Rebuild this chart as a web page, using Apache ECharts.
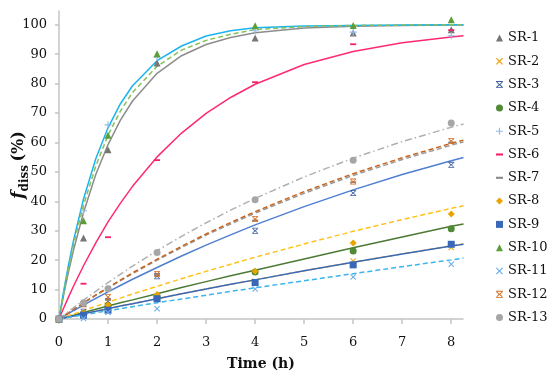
<!DOCTYPE html>
<html>
<head>
<meta charset="utf-8">
<script src="https://cdn.jsdelivr.net/npm/echarts@6/dist/echarts.min.js"></script>
<style>html,body{margin:0;padding:0;background:#fff;}#c{width:550px;height:379px;}</style>
</head>
<body>
<div id="c"></div>
<script>
// Measured time points (h)
var times = [0, 0.5, 1, 2, 4, 6, 8];
// Measured dissolution (%) per formulation
var sr1  = [0, 27.5, 57.5, 87.0, 95.5, 97.2, 98.3];
var sr2  = [0, 1.8, 3.3, 7.2, 12.8, 19.7, 24.3];
var sr3  = [0, 2.5, 6.0, 14.5, 30.0, 42.8, 52.4];
var sr4  = [0, 1.8, 4.5, 7.5, 16.0, 23.1, 30.7];
var sr5  = [0, 36.8, 66.0, 89.0, 98.0, 97.5, 96.3];
var sr6  = [0, 12.0, 27.8, 54.0, 80.5, 93.4, 98.2];
var sr7  = [0, 4.5, 6.5, 15.0, 33.5, 46.5, 60.0];
var sr8  = [0, 2.0, 4.8, 8.3, 16.2, 25.8, 35.7];
var sr9  = [0, 1.3, 3.0, 6.9, 12.4, 18.4, 25.4];
var sr10 = [0, 33.4, 62.5, 90.2, 99.7, 99.8, 101.7];
var sr11 = [0, 0.2, 2.2, 3.5, 10.2, 14.3, 18.6];
var sr12 = [0, 5.0, 7.5, 15.3, 34.0, 46.7, 60.5];
var sr13 = [0, 5.5, 10.3, 22.6, 40.5, 54.0, 66.6];

// Fitted curves
var fitTime = [0, 0.1, 0.2, 0.3, 0.5, 0.75, 1, 1.25, 1.5, 2, 2.5, 3, 3.5, 4, 5, 6, 7, 8, 8.25];
var fit1  = [0, 8.6, 16.5, 23.7, 36.2, 49.1, 59.3, 67.5, 74.1, 83.5, 89.5, 93.3, 95.7, 97.3, 98.9, 99.5, 99.8, 99.9, 99.9];
var fit2  = [0, 0.35, 0.7, 1.05, 1.75, 2.6, 3.5, 4.4, 5.2, 6.9, 8.6, 10.2, 11.8, 13.3, 16.4, 19.3, 22.1, 24.9, 25.5];
var fit3  = [0, 1.0, 1.9, 2.9, 4.7, 7.0, 9.2, 11.4, 13.5, 17.5, 21.4, 25.1, 28.6, 32.0, 38.2, 43.9, 49.1, 53.8, 54.9];
var fit4  = [0, 0.44, 0.9, 1.3, 2.2, 3.3, 4.4, 5.5, 6.5, 8.6, 10.7, 12.7, 14.7, 16.6, 20.4, 24.2, 27.9, 31.5, 32.3];
var fit5  = [0, 10.0, 18.9, 27.0, 40.8, 54.5, 65.0, 73.1, 79.3, 87.8, 92.8, 96.2, 98.0, 99.0, 99.6, 99.8, 99.9, 100, 100];
var fit6  = [0, 3.9, 7.7, 11.3, 18.1, 25.9, 33.0, 39.3, 45.1, 55.1, 63.2, 69.9, 75.3, 79.8, 86.5, 90.9, 93.9, 95.9, 96.3];
var fit7  = [0, 1.1, 2.2, 3.2, 5.4, 8.0, 10.5, 13.0, 15.4, 20.0, 24.3, 28.5, 32.3, 36.0, 42.7, 48.8, 54.2, 59.1, 60.2];
var fit8  = [0, 0.6, 1.2, 1.7, 2.9, 4.3, 5.7, 7.1, 8.5, 11.1, 13.7, 16.2, 18.6, 21.0, 25.5, 29.8, 33.8, 37.6, 38.5];
var fit9  = [0, 0.35, 0.7, 1.05, 1.75, 2.6, 3.5, 4.4, 5.2, 6.9, 8.6, 10.2, 11.8, 13.3, 16.4, 19.3, 22.1, 24.8, 25.4];
var fit10 = [0, 9.3, 17.8, 25.5, 38.7, 52.0, 62.5, 70.6, 77.0, 85.9, 91.4, 94.7, 96.8, 98.4, 99.4, 99.8, 99.9, 100, 100];
var fit11 = [0, 0.28, 0.56, 0.84, 1.4, 2.1, 2.8, 3.5, 4.2, 5.5, 6.8, 8.1, 9.4, 10.6, 13.0, 15.4, 17.8, 20.1, 20.7];
var fit12 = [0, 1.1, 2.2, 3.3, 5.5, 8.2, 10.7, 13.2, 15.7, 20.3, 24.7, 28.9, 32.8, 36.5, 43.3, 49.4, 54.8, 59.7, 60.8];
var fit13 = [0, 1.3, 2.6, 3.9, 6.4, 9.4, 12.4, 15.2, 18.0, 23.2, 28.1, 32.7, 37.0, 41.0, 48.3, 54.7, 60.3, 65.2, 66.3];

var xTicks = [0, 1, 2, 3, 4, 5, 6, 7, 8];
var yTicks = [0, 10, 20, 30, 40, 50, 60, 70, 80, 90, 100];
var names = ['SR-1','SR-2','SR-3','SR-4','SR-5','SR-6','SR-7','SR-8','SR-9','SR-10','SR-11','SR-12','SR-13'];

var SYM_X = 'path://M0,1.2 L1.2,0 L5,3.8 L8.8,0 L10,1.2 L6.2,5 L10,8.8 L8.8,10 L5,6.2 L1.2,10 L0,8.8 L3.8,5 Z';
var SYM_XB = 'path://M0,0 H10 V1.3 H0 Z M0,8.7 H10 V10 H0 Z M0.5,2 L1.7,1.3 L5,4.2 L8.3,1.3 L9.5,2 L6.1,5 L9.5,8 L8.3,8.7 L5,5.8 L1.7,8.7 L0.5,8 L3.9,5 Z';
var SYM_PLUS = 'path://M4.2,0 H5.8 V4.2 H10 V5.8 H5.8 V10 H4.2 V5.8 H0 V4.2 H4.2 Z';
var SYM_DASH = 'path://M0,0 H10 V3 H0 Z';

var markerDefs = [
  {d: sr1,  sym: 'triangle', size: 7, color: '#767676'},
  {d: sr2,  sym: SYM_X,      size: 6, color: '#e8a317'},
  {d: sr3,  sym: SYM_XB,     size: 6, color: '#3e5c9e'},
  {d: sr4,  sym: 'circle',   size: 7, color: '#4f8a34'},
  {d: sr5,  sym: SYM_PLUS,   size: 7, color: '#8fbbe8'},
  {d: sr6,  sym: SYM_DASH,   size: 6, color: '#f5206a'},
  {d: sr7,  sym: SYM_DASH,   size: 6, color: '#8a8a8a'},
  {d: sr8,  sym: 'diamond',  size: 7, color: '#eaa400'},
  {d: sr9,  sym: 'rect',     size: 7, color: '#3a68b8'},
  {d: sr10, sym: 'triangle', size: 7, color: '#5b9e38'},
  {d: sr11, sym: SYM_X,      size: 6, color: '#6aaee8'},
  {d: sr12, sym: SYM_XB,     size: 6, color: '#d2691e'},
  {d: sr13, sym: 'circle',   size: 7, color: '#a6a6a6'}
];
var fitDefs = [
  {d: fit7,  color: '#9a9a9a', type: 'dashed'},
  {d: fit1,  color: '#8c8c8c', type: 'solid'},
  {d: fit2,  color: '#f2b92f', type: 'dashed'},
  {d: fit3,  color: '#4f7fd0', type: 'solid'},
  {d: fit4,  color: '#4c7a34', type: 'solid'},
  {d: fit5,  color: '#1ab4ee', type: 'solid'},
  {d: fit6,  color: '#ff2a70', type: 'solid'},
  {d: fit8,  color: '#ffc21a', type: 'dashed'},
  {d: fit9,  color: '#3a68b8', type: 'solid'},
  {d: fit10, color: '#86c05a', type: 'dashed'},
  {d: fit11, color: '#3cb4ee', type: 'dashed'},
  {d: fit12, color: '#c8641e', type: 'dashed'},
  {d: fit13, color: '#b0b0b0', type: [7, 3, 1.5, 3]}
];

function pairs(xs, ys) { return xs.map(function (x, i) { return [x, ys[i]]; }); }

var series = [];
fitDefs.forEach(function (f, i) {
  var t = f.type;
  series.push({
    name: 'fit' + i, type: 'line', data: pairs(fitTime, f.d), showSymbol: false, silent: true,
    lineStyle: {color: f.color, width: 1.5, type: t === 'dashed' ? [5, 3] : t},
    z: 2, animation: false
  });
});
markerDefs.forEach(function (m, i) {
  series.push({
    name: names[i], type: 'scatter', data: pairs(times, m.d), symbol: m.sym, symbolSize: m.size,
    symbolKeepAspect: true, itemStyle: {color: m.color, opacity: 1}, z: 3, animation: false
  });
});

var FONT = 'DejaVu Serif';
var chart = echarts.init(document.getElementById('c'), null, {renderer: 'canvas'});
chart.setOption({
  backgroundColor: '#fff',
  animation: false,
  grid: {left: 59, right: 87, top: 11, bottom: 60, containLabel: false, outerBoundsMode: 'none'},
  legend: {
    orient: 'vertical', left: 491, top: 26, itemWidth: 7, itemHeight: 7, itemGap: 9.3,
    data: names, selectedMode: false,
    textStyle: {fontFamily: FONT, fontSize: 13, color: '#111', lineHeight: 14}
  },
  xAxis: {
    type: 'value', min: 0, max: 8.24,
    name: 'Time (h)', nameLocation: 'middle', nameGap: 38, nameMoveOverlap: false,
    nameTextStyle: {fontFamily: FONT, fontSize: 14, fontWeight: 'bold', color: '#111'},
    axisLine: {show: true, lineStyle: {color: '#c4c4c4', width: 1.5}},
    axisTick: {show: true, length: 5, lineStyle: {color: '#c4c4c4', width: 1.5}, customValues: xTicks},
    axisLabel: {fontFamily: FONT, fontSize: 13, color: '#111', margin: 17, customValues: xTicks},
    splitLine: {show: false}
  },
  yAxis: {
    type: 'value', min: 0, max: 104.7,
    name: '{f|f}{s|diss} {p|(%)}', nameLocation: 'middle', nameRotate: 90, nameGap: 32, nameMoveOverlap: false,
    nameTextStyle: {
      color: '#111',
      rich: {
        f: {fontFamily: FONT, fontSize: 17, fontStyle: 'italic', fontWeight: 'bold', color: '#111', verticalAlign: 'bottom', lineHeight: 20},
        s: {fontFamily: FONT, fontSize: 12, fontWeight: 'bold', color: '#111', verticalAlign: 'bottom', lineHeight: 14, padding: [0, 0, -4, 0]},
        p: {fontFamily: FONT, fontSize: 16, fontWeight: 'bold', color: '#111', verticalAlign: 'bottom', lineHeight: 20}
      }
    },
    axisLine: {show: true, lineStyle: {color: '#c4c4c4', width: 1.5}},
    axisTick: {show: true, length: 4, lineStyle: {color: '#c4c4c4', width: 1.5}, customValues: yTicks},
    axisLabel: {fontFamily: FONT, fontSize: 13, color: '#111', margin: 12, customValues: yTicks},
    splitLine: {show: false}
  },
  series: series
});
</script>
</body>
</html>
